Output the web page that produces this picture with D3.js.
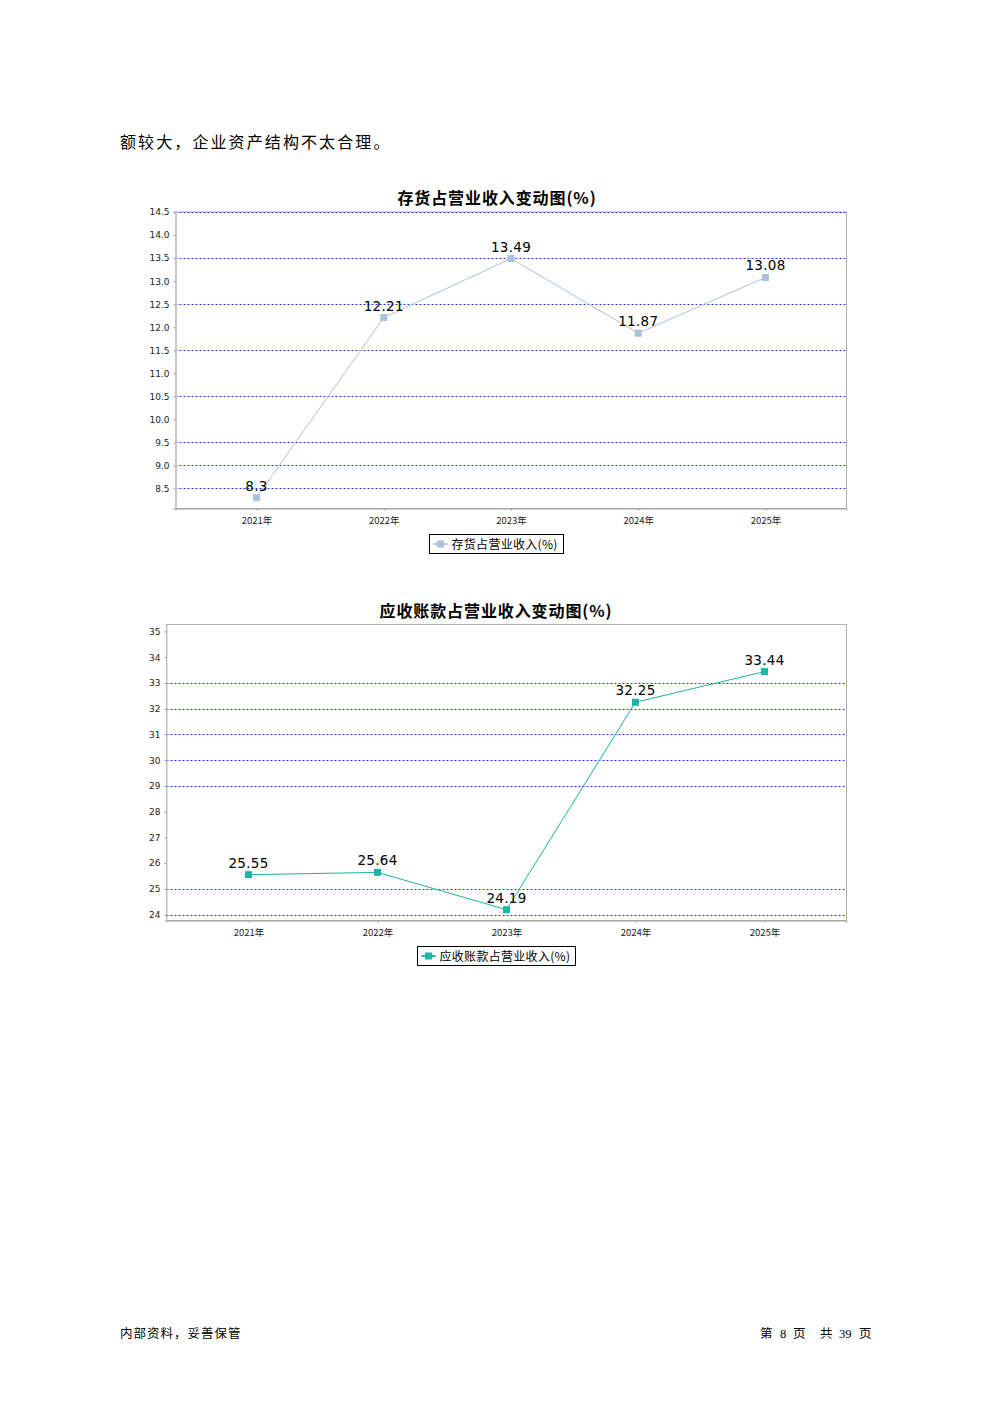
<!DOCTYPE html>
<html><head><meta charset="utf-8">
<script src="https://cdn.jsdelivr.net/npm/d3@7/dist/d3.min.js"></script>
<style>
body{margin:0;background:#fff;}
svg{display:block;}
</style></head>
<body>
<svg id="page" width="992" height="1403"></svg>
<script>
const categories = ["2021年","2022年","2023年","2024年","2025年"];
const inventoryValues = [8.3, 12.21, 13.49, 11.87, 13.08];
const receivableValues = [25.55, 25.64, 24.19, 32.25, 33.44];
const inventoryTicks = [14.5,14.0,13.5,13.0,12.5,12.0,11.5,11.0,10.5,10.0,9.5,9.0,8.5];
const inventoryGrid = [14.5,13.5,12.5,11.5,10.5,9.5,9.0,8.5];
const receivableTicks = [35,34,33,32,31,30,29,28,27,26,25,24];
const receivableGrid = [33,32,31,30,29,25,24];

const svg = d3.select("#page");
const CJK = "'Noto Sans CJK SC','Noto Sans',sans-serif";

svg.append("text").attr("x",120).attr("y",148).attr("font-family",CJK).attr("font-size",16)
  .attr("letter-spacing",2.1).attr("fill","#000").text("额较大，企业资产结构不太合理。");

function drawChart(cfg){
  const g = svg.append("g");
  const x = d3.scalePoint().domain(categories).range([cfg.left,cfg.right]).padding(cfg.pad);
  const y = d3.scaleLinear().domain(cfg.domain).range([cfg.bottom,cfg.top]);
  g.append("text").attr("x",cfg.titleX).attr("y",cfg.titleY).attr("text-anchor","middle")
    .attr("font-family",CJK).attr("font-size",16).attr("letter-spacing",0.9).attr("font-weight","bold").text(cfg.title);
  g.append("rect").attr("x",cfg.left).attr("y",cfg.top).attr("width",cfg.right-cfg.left)
    .attr("height",cfg.bottom-cfg.top).attr("fill","none").attr("stroke","#b0b0b0").attr("stroke-width",1);
  g.selectAll(".grid").data(cfg.grid).join("line")
    .attr("x1",cfg.left).attr("x2",cfg.right)
    .attr("y1",d=>Math.round(y(d))+0.5).attr("y2",d=>Math.round(y(d))+0.5)
    .attr("stroke","#3333ee").attr("stroke-width",1).attr("stroke-dasharray","2,2");
  const ya = d3.axisLeft(y).tickValues(cfg.ticks).tickSize(2).tickPadding(4).tickFormat(cfg.fmt);
  const yg = g.append("g").attr("transform",`translate(${cfg.left},0)`).call(ya);
  yg.select(".domain").attr("stroke","#c8c8c8").attr("stroke-width",cfg.axisW);
  yg.selectAll(".tick line").attr("stroke","#999");
  yg.selectAll("text").attr("font-family","'DejaVu Sans',sans-serif").attr("font-size",9).attr("fill","#222");
  const xa = d3.axisBottom(x).tickSize(2).tickPadding(7);
  const xg = g.append("g").attr("transform",`translate(0,${cfg.bottom})`).call(xa);
  xg.select(".domain").attr("stroke","#a0a0a0");
  xg.selectAll(".tick line").attr("stroke","#999");
  xg.selectAll("text").attr("font-family",CJK).attr("font-size",9.5).attr("fill","#222");
  const pts = categories.map((c,i)=>[x(c),y(cfg.values[i])]);
  g.append("path").attr("d",d3.line()(pts)).attr("fill","none").attr("stroke",cfg.color).attr("stroke-width",1);
  g.selectAll(".pt").data(categories).join("rect")
    .attr("x",d=>x(d)-3.5).attr("y",(d,i)=>y(cfg.values[i])-3.5).attr("width",7).attr("height",7)
    .attr("fill",cfg.color);
  g.selectAll(".lbl").data(categories).join("text")
    .attr("x",d=>x(d)).attr("y",(d,i)=>y(cfg.values[i])-7).attr("text-anchor","middle")
    .attr("font-family","'DejaVu Sans',sans-serif").attr("font-size",13.5).attr("letter-spacing",0.3).attr("fill","#000")
    .text((d,i)=>cfg.values[i]);
  const lg = g.append("g");
  lg.append("rect").attr("x",cfg.legX).attr("y",cfg.legY).attr("width",cfg.legW).attr("height",19)
    .attr("fill","#fff").attr("stroke","#000").attr("stroke-width",1);
  lg.append("line").attr("x1",cfg.legX+4).attr("x2",cfg.legX+18).attr("y1",cfg.legY+9.5).attr("y2",cfg.legY+9.5)
    .attr("stroke",cfg.color).attr("stroke-width",2);
  lg.append("rect").attr("x",cfg.legX+7.5).attr("y",cfg.legY+6).attr("width",7).attr("height",7).attr("fill",cfg.color);
  lg.append("text").attr("x",cfg.legX+22).attr("y",cfg.legY+14).attr("font-family",CJK).attr("font-size",12)
    .attr("letter-spacing",0.3).attr("fill","#000").text(cfg.legend);
}

drawChart({
  title:"存货占营业收入变动图(%)", titleX:497, titleY:204,
  left:175.5, right:846.5, top:212, bottom:508.5, pad:0.637,
  domain:[8.065,14.5], ticks:inventoryTicks, grid:inventoryGrid, fmt:d3.format(".1f"),
  values:inventoryValues, color:"#aac0dd", axisW:2,
  legX:429.5, legY:534.5, legW:134, legend:"存货占营业收入(%)"
});
drawChart({
  title:"应收账款占营业收入变动图(%)", titleX:496, titleY:617,
  left:166.5, right:846.5, top:624.5, bottom:920.5, pad:0.636,
  domain:[23.77,35.27], ticks:receivableTicks, grid:receivableGrid, fmt:d3.format("d"),
  values:receivableValues, color:"#20b2a4", axisW:1,
  legX:417.5, legY:946.5, legW:158, legend:"应收账款占营业收入(%)"
});

svg.append("text").attr("x",120).attr("y",1338).attr("font-family",CJK).attr("font-size",12.5)
  .attr("letter-spacing",1).text("内部资料，妥善保管");
const footParts = [["第",760,CJK],["8",780,"'Liberation Serif',serif"],["页",793,CJK],["共",820,CJK],["39",839,"'Liberation Serif',serif"],["页",859,CJK]];
svg.selectAll(".foot").data(footParts).join("text")
  .attr("x",d=>d[1]).attr("y",1338).attr("font-family",d=>d[2]).attr("font-size",12.5).text(d=>d[0]);
</script>
</body></html>
